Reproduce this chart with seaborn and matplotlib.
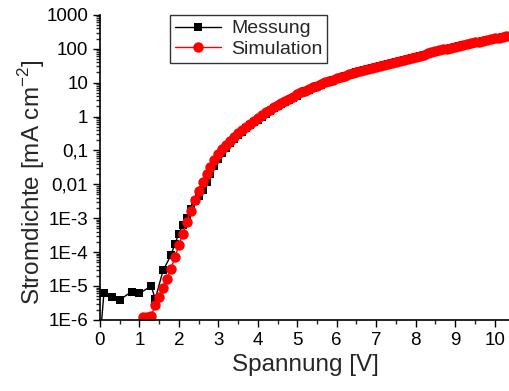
import numpy as np
import pandas as pd
import matplotlib
matplotlib.use("Agg")
import matplotlib.pyplot as plt
from matplotlib.ticker import LogLocator, NullFormatter, MultipleLocator
import seaborn as sns

# Messung: Spannung [V] und log10 der Stromdichte [mA cm^-2]
mess_v = [0.0, 0.1, 0.3, 0.5, 0.8, 1.0, 1.3, 1.4, 1.6, 1.8, 1.9, 2.0, 2.1, 2.2, 2.3, 2.4, 2.5, 2.6,
          2.7, 2.8, 2.9, 3.0, 3.1, 3.2, 3.3, 3.4, 3.5, 3.6, 3.7, 3.8, 3.9, 4.0, 4.1, 4.2, 4.3, 4.4,
          4.5, 4.6, 4.7, 4.8, 4.9, 5.0, 5.1, 5.2, 5.3, 5.4, 5.5, 5.6, 5.7, 5.8, 5.9, 6.0, 6.1, 6.2,
          6.3, 6.4, 6.5, 6.6, 6.7, 6.8, 6.9, 7.0, 7.1, 7.2, 7.3, 7.4, 7.5, 7.6, 7.7, 7.8, 7.9, 8.0,
          8.1, 8.2, 8.3, 8.4, 8.5, 8.6, 8.7, 8.8, 8.9, 9.0, 9.1, 9.2, 9.3, 9.4, 9.5, 9.6, 9.7, 9.8,
          9.9, 10.0, 10.1, 10.2, 10.3, 10.4]
mess_logj = [-6.6, -5.22, -5.34, -5.41, -5.17, -5.22, -5.0, -5.39, -4.54, -4.09, -3.75, -3.46,
             -3.19, -2.98, -2.72, -2.49, -2.35, -2.17,
             -1.94, -1.70, -1.46, -1.26, -1.08, -0.93, -0.79, -0.67, -0.56, -0.45, -0.35, -0.26,
             -0.17, -0.09, -0.01, 0.08, 0.16, 0.24, 0.31, 0.38, 0.44, 0.50, 0.56, 0.62, 0.68,
             0.74, 0.79, 0.84, 0.89, 0.94, 0.99, 1.03, 1.07, 1.11, 1.15, 1.19, 1.23, 1.26, 1.30,
             1.33, 1.36, 1.39, 1.42, 1.45, 1.48, 1.51, 1.54, 1.57, 1.60, 1.63, 1.66, 1.69, 1.72,
             1.75, 1.78, 1.81, 1.84, 1.87, 1.90, 1.93, 1.96, 1.99, 2.01, 2.04, 2.07, 2.10, 2.12,
             2.15, 2.18, 2.20, 2.23, 2.25, 2.27, 2.30, 2.32, 2.34, 2.36, 2.38]

# Simulation
sim_v = [1.1, 1.2, 1.3, 1.4, 1.5, 1.6, 1.7, 1.8, 1.9, 2.0, 2.1, 2.2, 2.3, 2.4, 2.5, 2.6,
         2.7, 2.8, 2.9, 3.0, 3.1, 3.2, 3.3, 3.4, 3.5, 3.6, 3.7, 3.8, 3.9, 4.0, 4.1, 4.2, 4.3, 4.4,
         4.5, 4.6, 4.7, 4.8, 4.9, 5.0, 5.1, 5.2, 5.3, 5.4, 5.5, 5.6, 5.7, 5.8, 5.9, 6.0, 6.1, 6.2,
         6.3, 6.4, 6.5, 6.6, 6.7, 6.8, 6.9, 7.0, 7.1, 7.2, 7.3, 7.4, 7.5, 7.6, 7.7, 7.8, 7.9, 8.0,
         8.1, 8.2, 8.3, 8.4, 8.5, 8.6, 8.7, 8.8, 8.9, 9.0, 9.1, 9.2, 9.3, 9.4, 9.5, 9.6, 9.7, 9.8,
         9.9, 10.0, 10.1, 10.2, 10.3, 10.4]
sim_logj = [-5.92, -5.92, -5.89, -5.55, -5.34, -5.07, -4.79, -4.49, -4.15, -3.80, -3.46, -3.12,
            -2.78, -2.47, -2.19, -1.92,
            -1.69, -1.48, -1.29, -1.12, -0.97, -0.83, -0.71, -0.60, -0.49, -0.39, -0.30, -0.21,
            -0.12, -0.04, 0.04, 0.12, 0.20, 0.27, 0.34, 0.41, 0.47, 0.53, 0.59, 0.65, 0.71, 0.76,
            0.81, 0.86, 0.91, 0.96, 1.01, 1.05, 1.09, 1.13, 1.17, 1.21, 1.25, 1.28, 1.31, 1.34,
            1.37, 1.40, 1.44, 1.47, 1.50, 1.53, 1.56, 1.59, 1.62, 1.65, 1.68, 1.71, 1.74, 1.77,
            1.80, 1.83, 1.86, 1.89, 1.92, 1.95, 1.98, 2.00, 2.03, 2.06, 2.09, 2.11, 2.14, 2.17,
            2.19, 2.21, 2.24, 2.26, 2.28, 2.31, 2.33, 2.35, 2.37, 2.39]

y_ticks = [1e-6, 1e-5, 1e-4, 1e-3, 1e-2, 1e-1, 1, 10, 100, 1000]
y_labels = ["1E-6", "1E-5", "1E-4", "1E-3", "0,01", "0,1", "1", "10", "100", "1000"]
x_ticks = [0, 1, 2, 3, 4, 5, 6, 7, 8, 9, 10]

mess = pd.DataFrame({"U": mess_v, "J": np.power(10.0, mess_logj)})
sim = pd.DataFrame({"U": sim_v, "J": np.power(10.0, sim_logj)})

sns.set_style("ticks")
plt.rcParams["font.family"] = ["Liberation Sans", "DejaVu Sans"]
plt.rcParams["mathtext.fontset"] = "custom"
plt.rcParams["mathtext.rm"] = "Liberation Sans"

fig = plt.figure(figsize=(5.1, 3.91), dpi=100)
ax = fig.add_axes([0.196, 0.182, 0.804, 0.78])

sns.lineplot(data=mess, x="U", y="J", ax=ax, color="black", marker="s", markersize=6,
             markeredgewidth=0, linewidth=1, label="Messung", sort=False)
sns.lineplot(data=sim, x="U", y="J", ax=ax, color="#ff0000", marker="o", markersize=7.5,
             markeredgewidth=0, linewidth=1, label="Simulation", sort=False)

ax.set_yscale("log")
ax.set_xlim(0, 10.39)
ax.set_ylim(1e-6, 1000)
ax.set_yticks(y_ticks)
ax.set_yticklabels(y_labels)
ax.yaxis.set_minor_locator(LogLocator(base=10, subs=np.arange(2, 10), numticks=20))
ax.yaxis.set_minor_formatter(NullFormatter())
ax.set_xticks(x_ticks)
ax.xaxis.set_minor_locator(MultipleLocator(0.5))

ax.tick_params(axis="both", which="major", direction="out", length=5, width=1,
               labelsize=13.5, colors="black")
ax.tick_params(axis="both", which="minor", direction="out", length=3, width=1)

sns.despine(ax=ax)
for s in ["left", "bottom"]:
    ax.spines[s].set_linewidth(1.2)
    ax.spines[s].set_color("black")

ax.set_xlabel("Spannung [V]", fontsize=17.5, labelpad=4)
ax.set_ylabel("Stromdichte [mA cm$^{-2}$]", fontsize=17.5)
ax.yaxis.set_label_coords(-0.13, 0.45)

leg = ax.legend(loc="upper left", bbox_to_anchor=(0.17, 1.0), borderaxespad=0,
                fontsize=14, frameon=True, fancybox=False, handlelength=2.4,
                handletextpad=0.5, borderpad=0.25, labelspacing=0.15)
leg.get_frame().set_edgecolor("black")
leg.get_frame().set_linewidth(1)

fig.savefig("out.png", dpi=100)
